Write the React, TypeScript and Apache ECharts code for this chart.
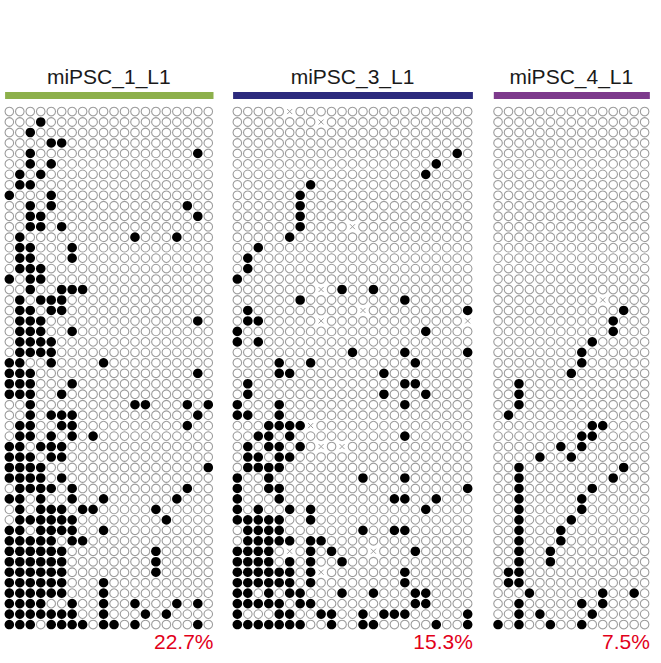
import React, { useEffect, useRef } from 'react';
import * as echarts from 'echarts';

// ---------------- data ----------------
const panelNames = ['miPSC_1_L1', 'miPSC_3_L1', 'miPSC_4_L1'];
const panelPercents = ['22.7%', '15.3%', '7.5%'];
const panelColumns = [20, 23, 15];
const rowCount = 50;

// methylated (filled) CpG positions per read (row), panel 1
const p1Filled: number[][] = [
  [], [3], [2], [4, 5], [2, 18], [2, 4], [1, 3], [1, 2], [0, 4], [2, 4, 17],
  [2, 3, 18], [2, 3, 5], [1, 12, 16], [1, 2, 6], [1, 2, 6], [1, 2, 3], [0, 2, 3], [2, 5, 6, 7], [1, 3, 4, 5], [1, 2, 4, 5],
  [1, 2, 3, 18], [1, 2, 3, 6], [1, 2, 3, 4], [1, 2, 3, 4], [0, 1, 4, 9], [0, 1, 2, 18], [0, 1, 2, 6], [0, 1, 2, 5], [2, 12, 13, 17, 19], [2, 4, 5, 6, 18],
  [1, 2, 5, 6, 17], [1, 2, 4, 6, 8], [0, 1, 3, 4, 5], [0, 1, 2, 4, 5], [0, 1, 2, 3, 19], [0, 1, 2, 3, 5], [1, 2, 3, 4, 6, 17], [0, 1, 3, 6, 9, 16], [1, 3, 4, 5, 7, 8, 14], [1, 2, 3, 4, 5, 6, 15],
  [0, 1, 3, 4, 5, 6, 9], [0, 1, 2, 3, 4, 6, 7], [0, 1, 2, 3, 4, 5, 14], [0, 1, 2, 3, 4, 5, 14], [0, 1, 2, 3, 4, 5, 14], [0, 1, 2, 3, 4, 5, 9], [0, 1, 2, 3, 4, 5, 9], [0, 1, 2, 3, 6, 9, 12, 16, 18], [0, 1, 2, 3, 4, 5, 6, 9, 13, 15], [0, 1, 2, 4, 5, 6, 7, 9, 10, 12, 18],
];
const p1Missing: number[][] = []; // [row, col]

const p2Filled: number[][] = [
  [], [], [], [], [21], [19], [18], [7], [6], [6],
  [6], [6], [5], [2], [1], [1], [0], [10, 13], [6, 16], [1, 22],
  [1, 2], [0, 18], [0, 2], [11, 16, 22], [4, 7, 17], [4, 5, 14], [1, 16, 17], [1, 14, 18], [0, 4, 16], [0, 1, 4],
  [3, 4, 5, 6], [2, 3, 5, 16], [1, 3, 4, 6], [1, 2, 4, 5], [1, 2, 3, 4], [0, 3, 12, 16], [0, 3, 4, 22], [0, 4, 15, 16, 19], [0, 2, 5, 7, 18], [0, 1, 2, 3, 4, 7],
  [1, 2, 3, 4, 12, 15, 16], [1, 2, 3, 4, 5, 7, 8], [0, 1, 2, 3, 7, 9, 17], [0, 1, 2, 3, 5, 7, 10], [0, 1, 2, 3, 4, 5, 7, 16], [0, 1, 2, 3, 4, 5, 7, 16], [0, 1, 3, 5, 6, 10, 13, 17, 18], [0, 1, 2, 3, 4, 6, 7, 17, 18], [0, 4, 5, 8, 9, 12, 14, 15, 16, 22], [0, 1, 2, 3, 4, 5, 6, 9, 12, 13, 19, 22],
];
const p2Missing: number[][] = [
  [0, 5], [1, 8], [11, 11], [17, 8], [19, 12], [20, 8], [20, 22], [30, 7], [32, 8], [32, 10], [42, 5], [42, 13], [44, 8],
];

const p3Filled: number[][] = [
  [], [], [], [], [], [], [], [], [], [],
  [], [], [], [], [], [], [], [], [], [12],
  [11], [11], [9], [8], [8], [7], [2], [2], [2], [1],
  [9, 10], [8, 9], [6, 8], [4, 7], [2, 12], [2, 11], [2, 9], [2, 8], [2, 8], [2, 7],
  [2, 6], [2, 6], [2, 5], [2, 5], [1, 2], [1, 2], [3, 10, 13], [2, 8, 10], [2, 4, 9], [0, 2, 5, 8],
];
const p3Missing: number[][] = [[18, 10]];

const panelFilled = [p1Filled, p2Filled, p3Filled];
const panelMissing = [p1Missing, p2Missing, p3Missing];

// ---------------- layout / style ----------------
const W = 661;
const H = 663;
const PITCH = 10.47;
const PANEL_LEFT = [4.1, 232.1, 492.8];
const GRID_TOP = 106.3;
const BAR_COLORS = ['#8db04b', '#2c2a7d', '#7d3a8c'];
const FONT = 'Liberation Sans, Arial, Helvetica, sans-serif';
const EMPTY_STROKE = '#9c9c9c';

function buildOption() {
  const grid: any[] = [];
  const xAxis: any[] = [];
  const yAxis: any[] = [];
  const series: any[] = [];
  const graphic: any[] = [];

  panelColumns.forEach((n, p) => {
    const left = PANEL_LEFT[p];
    const width = n * PITCH;
    grid.push({ left, top: GRID_TOP, width, height: rowCount * PITCH });
    xAxis.push({ type: 'value', gridIndex: p, min: -0.5, max: n - 0.5, show: false });
    yAxis.push({ type: 'value', gridIndex: p, min: -0.5, max: rowCount - 0.5, inverse: true, show: false });

    const filledSet = new Set<string>();
    panelFilled[p].forEach((cols, r) => cols.forEach((c) => filledSet.add(r + ',' + c)));
    const missSet = new Set<string>();
    panelMissing[p].forEach(([r, c]) => missSet.add(r + ',' + c));

    const filled: number[][] = [];
    const empty: number[][] = [];
    const missing: number[][] = [];
    for (let r = 0; r < rowCount; r++) {
      for (let c = 0; c < n; c++) {
        const k = r + ',' + c;
        if (filledSet.has(k)) filled.push([c, r]);
        else if (missSet.has(k)) missing.push([c, r]);
        else empty.push([c, r]);
      }
    }

    series.push({
      type: 'scatter', xAxisIndex: p, yAxisIndex: p, data: empty, symbol: 'circle', symbolSize: 8.6,
      itemStyle: { color: '#ffffff', borderColor: EMPTY_STROKE, borderWidth: 1.1, opacity: 1 }, silent: true,
    });
    series.push({
      type: 'scatter', xAxisIndex: p, yAxisIndex: p, data: filled, symbol: 'circle', symbolSize: 9.6,
      itemStyle: { color: '#000000', opacity: 1 }, silent: true,
    });
    series.push({
      type: 'scatter', xAxisIndex: p, yAxisIndex: p, data: missing,
      symbol: 'path://M0,0L10,10M10,0L0,10', symbolSize: 5,
      itemStyle: { color: 'none', borderColor: EMPTY_STROKE, borderWidth: 1, opacity: 1 }, silent: true,
    });

    graphic.push({
      type: 'rect', shape: { x: left + 1, y: 92, width: width - 1, height: 7 },
      style: { fill: BAR_COLORS[p] }, silent: true,
    });
    graphic.push({
      type: 'text', x: left + width / 2, y: 76,
      style: { text: panelNames[p], fill: '#1a1a1a', font: `21px ${FONT}`, textAlign: 'center', textVerticalAlign: 'middle' },
      silent: true,
    });
    graphic.push({
      type: 'text', x: left + width, y: 641,
      style: { text: panelPercents[p], fill: '#e2001a', font: `21px ${FONT}`, textAlign: 'right', textVerticalAlign: 'middle' },
      silent: true,
    });
  });

  return {
    animation: false,
    backgroundColor: '#ffffff',
    grid, xAxis, yAxis, series, graphic,
  };
}

export default function App() {
  const ref = useRef<HTMLDivElement>(null);
  useEffect(() => {
    if (!ref.current) return;
    const chart = echarts.init(ref.current, undefined, { renderer: 'svg' });
    chart.setOption(buildOption() as any);
    return () => chart.dispose();
  }, []);
  return (
    <div
      ref={ref}
      style={{ position: 'fixed', left: 0, top: 0, width: W, height: H, background: '#fff' }}
    />
  );
}
